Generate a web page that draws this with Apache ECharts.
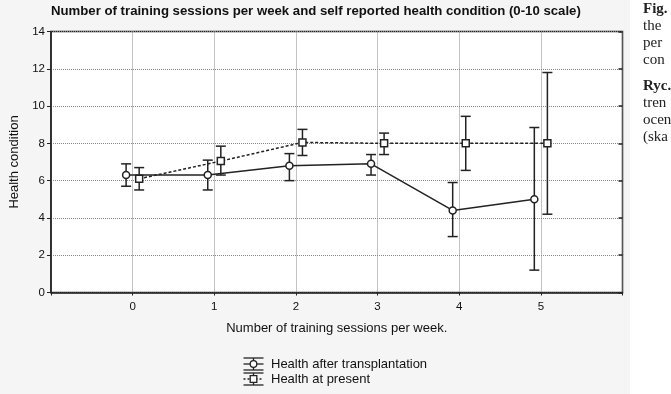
<!DOCTYPE html>
<html>
<head>
<meta charset="utf-8">
<script src="https://cdn.jsdelivr.net/npm/echarts@6/dist/echarts.min.js"></script>
<style>
  html, body { margin: 0; padding: 0; background: #fff; }
  #main { width: 671px; height: 394px; }
</style>
</head>
<body>
<div id="main"></div>
<script>
// data
var sessions = [0, 1, 2, 3, 4, 5];
var afterMean = [6.3, 6.3, 6.8, 6.9, 4.4, 5.0];
var afterLow = [5.7, 5.5, 6.0, 6.3, 3.0, 1.2];
var afterHigh = [6.9, 7.1, 7.45, 7.4, 5.9, 8.85];
var presentMean = [6.1, 7.05, 8.05, 8.0, 8.0, 8.0];
var presentLow = [5.5, 6.3, 7.35, 7.4, 6.55, 4.2];
var presentHigh = [6.7, 7.85, 8.75, 8.55, 9.45, 11.8];
var seriesNames = ['Health after transplantation', 'Health at present'];
var captionLines = ['Fig.', 'the', 'per', 'con', 'Ryc.', 'tren', 'ocen', '(ska'];

var INK = '#222';
var FONT = '"Liberation Sans", Arial, sans-serif';
var SHIFT = 0.08; // the two series sit slightly left / right of each tick

function points(mean, dx) {
  return sessions.map(function (s, i) { return [s + dx, mean[i]]; });
}
function bars(low, high, dx) {
  return sessions.map(function (s, i) { return [s + dx, low[i], high[i]]; });
}

// whisker with caps
function errorBar(params, api) {
  var x = api.value(0);
  var lo = api.coord([x, api.value(1)]);
  var hi = api.coord([x, api.value(2)]);
  var w = 5;
  var st = { stroke: INK, lineWidth: 1.5 };
  return {
    type: 'group',
    children: [
      { type: 'line', shape: { x1: lo[0], y1: lo[1], x2: hi[0], y2: hi[1] }, style: st },
      { type: 'line', shape: { x1: lo[0] - w, y1: lo[1], x2: lo[0] + w, y2: lo[1] }, style: st },
      { type: 'line', shape: { x1: hi[0] - w, y1: hi[1], x2: hi[0] + w, y2: hi[1] }, style: st }
    ]
  };
}

// legend glyph: caps, whisker, marker on the series line
function legendGlyph(cx, cy, symbol, dashed) {
  var st = { stroke: INK, lineWidth: 1.3 };
  var kids = [
    { type: 'line', shape: { x1: cx - 10, y1: cy - 6, x2: cx + 10, y2: cy - 6 }, style: st },
    { type: 'line', shape: { x1: cx - 10, y1: cy + 6, x2: cx + 10, y2: cy + 6 }, style: st },
    { type: 'line', shape: { x1: cx, y1: cy - 6, x2: cx, y2: cy + 6 }, style: st },
    { type: 'line', shape: { x1: cx - 10, y1: cy, x2: cx + 10, y2: cy },
      style: { stroke: INK, lineWidth: 1.3, lineDash: dashed ? [2, 2] : null } }
  ];
  if (symbol === 'circle') {
    kids.push({ type: 'circle', shape: { cx: cx, cy: cy, r: 3.3 }, style: { fill: '#fff', stroke: INK, lineWidth: 1.3 } });
  } else {
    kids.push({ type: 'rect', shape: { x: cx - 3.3, y: cy - 3.3, width: 6.6, height: 6.6 }, style: { fill: '#fff', stroke: INK, lineWidth: 1.3 } });
  }
  return { type: 'group', children: kids };
}

var chart = echarts.init(document.getElementById('main'));

var graphics = [
  { type: 'rect', z: -10, shape: { x: 0, y: 0, width: 630, height: 394 }, style: { fill: '#f5f5f5' } },
  legendGlyph(253.5, 364, 'circle', false),
  legendGlyph(253.5, 379, 'rect', true),
  { type: 'text', x: 271, y: 364, style: { text: seriesNames[0], font: '13px ' + FONT, fill: '#111', verticalAlign: 'middle' } },
  { type: 'text', x: 271, y: 379, style: { text: seriesNames[1], font: '13px ' + FONT, fill: '#111', verticalAlign: 'middle' } }
];
// clipped figure caption on the right edge of the page
captionLines.forEach(function (t, i) {
  var bold = (t === 'Fig.' || t === 'Ryc.');
  var y = i < 4 ? 9 + i * 17 : 86 + (i - 4) * 17;
  graphics.push({
    type: 'text', x: 643, y: y,
    style: { text: t, font: (bold ? 'bold ' : '') + '15px "Liberation Serif", "DejaVu Serif", serif', fill: '#222', verticalAlign: 'middle' }
  });
});

var option = {
  animation: false,
  backgroundColor: '#fff',
  title: {
    text: 'Number of training sessions per week and self reported health condition (0-10 scale)',
    left: 46, top: 0,
    textStyle: { fontFamily: FONT, fontSize: 13.2, fontWeight: 'bold', color: '#111' }
  },
  grid: {
    left: 49.5, right: 48.5, top: 31.5, bottom: 101.5,
    show: true, backgroundColor: '#fff', borderColor: INK, borderWidth: 1.5
  },
  xAxis: {
    type: 'value', min: -1, max: 6, interval: 1,
    name: 'Number of training sessions per week.',
    nameLocation: 'middle', nameGap: 29,
    nameTextStyle: { fontFamily: FONT, fontSize: 13, color: '#111' },
    axisLine: { show: true, lineStyle: { color: INK, width: 1.5 } },
    axisTick: { show: true, length: 3, lineStyle: { color: INK } },
    axisLabel: {
      margin: 8, fontFamily: FONT, fontSize: 11.5, color: '#111',
      formatter: function (v) { return (v < 0 || v > 5) ? '' : String(v); }
    },
    splitLine: { show: true, lineStyle: { type: 'dotted', color: '#888', width: 1 } }
  },
  yAxis: [{
    type: 'value', min: 0, max: 14, interval: 2,
    name: 'Health condition',
    nameLocation: 'middle', nameGap: 30, nameRotate: 90,
    nameTextStyle: { fontFamily: FONT, fontSize: 13, color: '#111' },
    axisLine: { show: true, onZero: false, lineStyle: { color: INK, width: 1.5 } },
    axisTick: { show: true, length: 4, lineStyle: { color: INK } },
    axisLabel: { margin: 6, fontFamily: FONT, fontSize: 11.5, color: '#111' },
    splitLine: { show: true, lineStyle: { type: 'dotted', color: '#888', width: 1 } }
  }, {
    type: 'value', min: 0, max: 14, interval: 2, position: 'right',
    axisLine: { show: false, onZero: false },
    axisTick: { show: true, inside: true, length: 4, lineStyle: { color: INK, width: 1.5 } },
    axisLabel: { show: false },
    splitLine: { show: false }
  }],
  series: [
    {
      name: seriesNames[0] + ' range', type: 'custom', renderItem: errorBar,
      data: bars(afterLow, afterHigh, -SHIFT), encode: { x: 0, y: [1, 2] }, z: 2, silent: true
    },
    {
      name: seriesNames[1] + ' range', type: 'custom', renderItem: errorBar,
      data: bars(presentLow, presentHigh, SHIFT), encode: { x: 0, y: [1, 2] }, z: 2, silent: true
    },
    {
      name: seriesNames[0], type: 'line', data: points(afterMean, -SHIFT),
      symbol: 'circle', symbolSize: 7, z: 4,
      itemStyle: { color: '#fff', borderColor: INK, borderWidth: 1.5 },
      lineStyle: { color: INK, width: 1.5 }
    },
    {
      name: seriesNames[1], type: 'line', data: points(presentMean, SHIFT),
      symbol: 'rect', symbolSize: 7, z: 3,
      itemStyle: { color: '#fff', borderColor: INK, borderWidth: 1.5 },
      lineStyle: { color: INK, width: 1.5, type: [3, 2] }
    }
  ],
  graphic: graphics
};
chart.setOption(option);
</script>
</body>
</html>
